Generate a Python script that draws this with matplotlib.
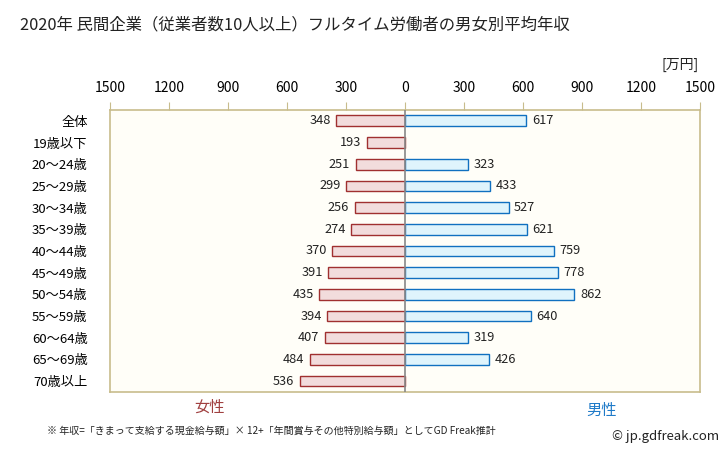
import numpy as np
import matplotlib
matplotlib.use("Agg")
import matplotlib.pyplot as plt

plt.rcParams['font.family'] = ['Noto Sans CJK JP', 'DejaVu Sans']

# data
categories = ["全体", "19歳以下", "20〜24歳", "25〜29歳", "30〜34歳", "35〜39歳",
              "40〜44歳", "45〜49歳", "50〜54歳", "55〜59歳", "60〜64歳",
              "65〜69歳", "70歳以上"]
female = [348, 193, 251, 299, 256, 274, 370, 391, 435, 394, 407, 484, 536]
male = [617, np.nan, 323, 433, 527, 621, 759, 778, 862, 640, 319, 426, np.nan]
tick_values = [-1500, -1200, -900, -600, -300, 0, 300, 600, 900, 1200, 1500]

frame_col = "#c8bc8c"
f_face, f_edge = "#f2dcdc", "#a03030"
m_face, m_edge = "#dff4fc", "#1070c0"

fig = plt.figure(figsize=(7.28, 4.51), dpi=100)
ax = fig.add_axes([0.151, 0.131, 0.8104, 0.625])
ax.set_facecolor("#fffef8")

y = np.arange(len(categories))
fem = np.array(female, dtype=float)
mal = np.array(male, dtype=float)

ax.barh(y, -fem, height=0.5, color=f_face, edgecolor=f_edge, linewidth=1.0, zorder=2)
m_ok = ~np.isnan(mal)
ax.barh(y[m_ok], mal[m_ok], height=0.5, color=m_face, edgecolor=m_edge, linewidth=1.0, zorder=2)

for yi, v in zip(y, fem):
    ax.text(-v - 28, yi, f"{int(v)}", ha="right", va="center", fontsize=9.2, color="#222222")
for yi, v in zip(y, mal):
    if not np.isnan(v):
        ax.text(v + 28, yi, f"{int(v)}", ha="left", va="center", fontsize=9.2, color="#222222")

ax.axvline(0, color="#888888", linewidth=1.2, zorder=3)

ax.set_xlim(-1500, 1500)
ax.set_ylim(len(categories) - 0.5, -0.5)
ax.set_yticks(y)
ax.set_yticklabels(categories, fontsize=9.5)
ax.tick_params(axis="y", length=0, pad=16)

ax.xaxis.tick_top()
ax.set_xticks(tick_values)
ax.set_xticklabels([str(abs(t)) for t in tick_values], fontsize=10)
ax.tick_params(axis="x", direction="out", length=6, color=frame_col, pad=5)

for s in ax.spines.values():
    s.set_color(frame_col)
    s.set_linewidth(1.2)

fig.text(0.027, 0.945, "2020年 民間企業（従業者数10人以上）フルタイム労働者の男女別平均年収",
         fontsize=11.8, ha="left", va="center", color="#222222")
fig.text(0.96, 0.855, "[万円]", fontsize=10, ha="right", va="center", color="#222222")
fig.text(0.288, 0.097, "女性", fontsize=11, ha="center", va="center", color="#a04040")
fig.text(0.827, 0.09, "男性", fontsize=11, ha="center", va="center", color="#1f7ac8")
fig.text(0.064, 0.045, "※ 年収=「きまって支給する現金給与額」× 12+「年間賞与その他特別給与額」としてGD Freak推計",
         fontsize=7.2, ha="left", va="center", color="#222222")
fig.text(0.988, 0.033, "© jp.gdfreak.com", fontsize=9.5, ha="right", va="center", color="#222222")

fig.savefig("out.png", dpi=100)
